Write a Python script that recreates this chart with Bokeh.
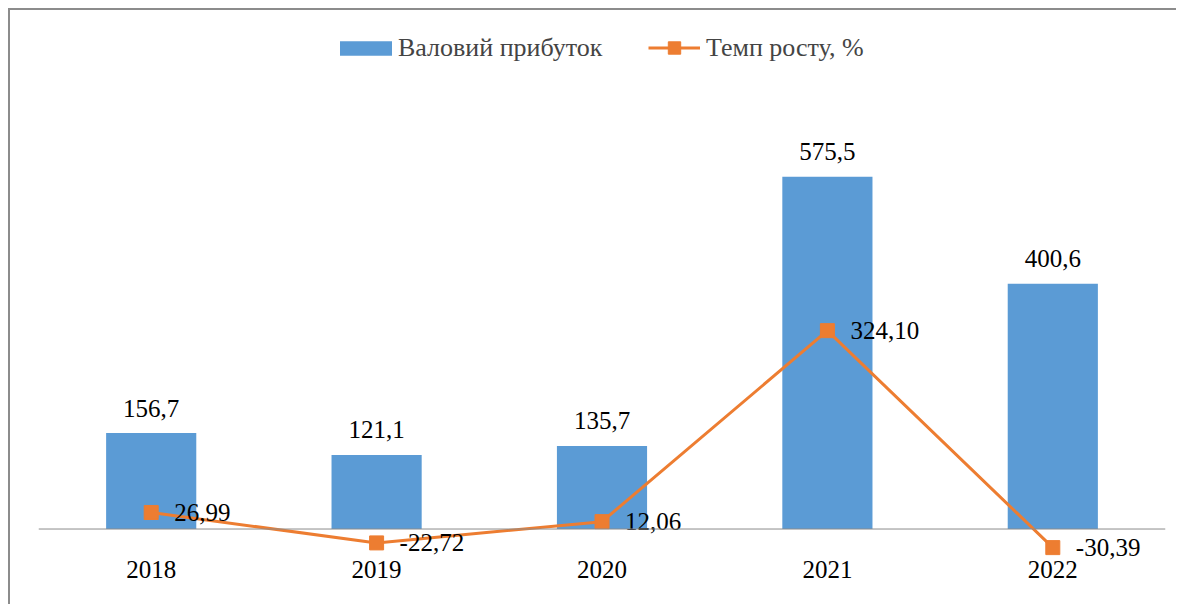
from bokeh.plotting import figure
from bokeh.models import ColumnDataSource, Legend, LegendItem, Span, FactorRange
from bokeh.core.properties import value
from bokeh.embed import file_html
from bokeh.resources import INLINE

years = ["2018", "2019", "2020", "2021", "2022"]
gross_profit = [156.7, 121.1, 135.7, 575.5, 400.6]
growth_rate = [26.99, -22.72, 12.06, 324.10, -30.39]
gross_labels = [f"{v:.1f}".replace(".", ",") for v in gross_profit]
growth_labels = [f"{v:.2f}".replace(".", ",") for v in growth_rate]
zeros = [0] * len(years)

BLUE = "#5B9BD5"
ORANGE = "#ED7D31"
FONT = "Liberation Serif"

src = ColumnDataSource(dict(x=years, bar=gross_profit, rate=growth_rate,
                            bl=gross_labels, rl=growth_labels, z=zeros))

p = figure(x_range=FactorRange(*years, range_padding=0), y_range=(-126.6, 847.2),
           width=1168, height=596, output_backend="svg", toolbar_location=None,
           x_axis_location=None, y_axis_location=None,
           min_border_left=28, min_border_right=13, min_border_top=0, min_border_bottom=0)
p.outline_line_color = None
p.xgrid.visible = False
p.ygrid.visible = False
p.styles = {"margin-left": "8px", "margin-top": "8px",
            "border-left": "2px solid #8c8c8c", "border-top": "2px solid #8c8c8c"}

bars = p.vbar(x="x", top="bar", width=0.4, source=src, fill_color=BLUE, line_color=None)
p.add_layout(Span(location=0, dimension="width", line_color="#8c8c8c", line_width=1))
line = p.line(x="x", y="rate", source=src, line_color=ORANGE, line_width=3)
pts = p.scatter(x="x", y="rate", source=src, marker="square", size=14,
                fill_color=ORANGE, line_color=ORANGE)

p.text(x="x", y="bar", text="bl", source=src, text_align="center", text_baseline="alphabetic",
       y_offset=-25, text_font=value(FONT), text_font_size="25px", text_color="black")
p.text(x="x", y="rate", text="rl", source=src, text_align="left", text_baseline="alphabetic",
       x_offset=23, y_offset=0, text_font=value(FONT), text_font_size="25px", text_color="black")
p.text(x="x", y="z", text="x", source=src, text_align="center", text_baseline="alphabetic",
       y_offset=40, text_font=value(FONT), text_font_size="25px", text_color="black")

common = dict(orientation="horizontal",
              label_text_font="'Liberation Serif', serif", label_text_font_size="26px",
              border_line_color=None, background_fill_alpha=0, margin=0, padding=0)
legend1 = Legend(items=[LegendItem(label="Валовий прибуток", renderers=[bars])],
                 location=(295, 543), glyph_width=65, glyph_height=18, label_standoff=0, **common)
legend2 = Legend(items=[LegendItem(label="Темп росту, %", renderers=[line, pts])],
                 location=(610, 543), glyph_width=52, glyph_height=31, label_standoff=6, **common)
p.add_layout(legend1)
p.add_layout(legend2)

open("out.html", "w").write(file_html(p, INLINE))
